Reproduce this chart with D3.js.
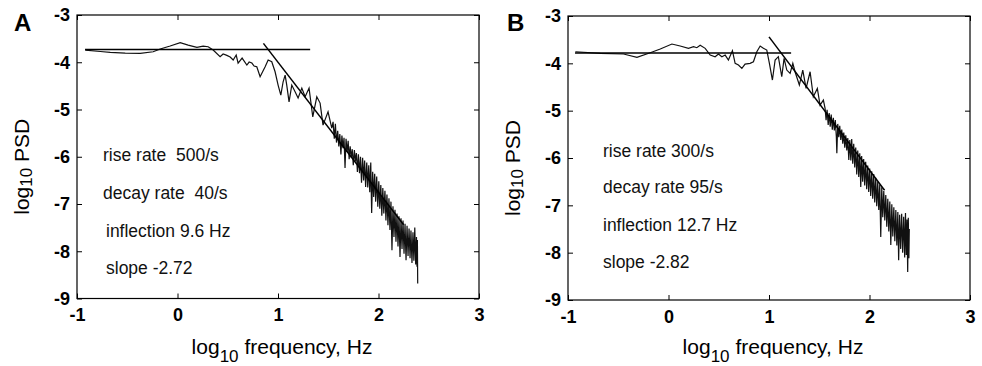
<!DOCTYPE html>
<html>
<head>
<meta charset="utf-8">
<script src="https://cdn.jsdelivr.net/npm/d3@7"></script>
<style>
  body { margin: 0; background: #fff; }
  svg { display: block; }
  .tick text { font-family: "Liberation Sans", Arial, sans-serif; font-size: 18px; font-weight: bold; fill: #000; }
  .note { font-family: "Liberation Sans", Arial, sans-serif; font-size: 17.5px; fill: #111; white-space: pre; }
  .lab { font-family: "Liberation Sans", Arial, sans-serif; font-size: 21px; fill: #000; }
  .panel { font-family: "Liberation Sans", Arial, sans-serif; font-size: 24px; font-weight: bold; fill: #000; }
</style>
</head>
<body>
<svg id="chart" width="982" height="366"></svg>
<script>
// log10 frequency (Hz) / log10 PSD
const freqA = [-0.918,-0.768,-0.669,-0.520,-0.371,-0.242,-0.172,-0.073,0.027,0.106,0.193,0.255,0.305,0.355,0.424,0.454,0.491,0.524,0.554,0.584,0.603,0.643,0.690,0.713,0.740,0.762,0.789,0.822,0.872,0.902,0.938,0.971,1.001,1.028,1.051,1.071,1.087,1.110,1.137,1.170,1.200,1.237,1.270,1.309,1.346,1.386,1.419,1.448,1.498,1.535,
  1.548,1.560,1.571,1.582,1.594,1.605,1.615,1.626,1.636,1.647,1.657,1.667,1.677,1.688,1.698,1.708,1.718,1.729,1.739,1.749,1.760,1.770,1.780,1.790,
  1.800,1.811,1.821,1.831,1.842,1.852,1.862,1.872,1.883,1.893,1.903,1.913,1.923,1.932,1.942,1.952,1.962,1.972,1.982,1.993,2.003,2.013,2.023,2.033,2.043,2.053,2.064,2.074,2.084,2.094,2.104,2.114,2.124,2.134,2.144,2.154,2.164,2.174,2.184,2.194,2.204,2.214,2.224,2.234,2.244,2.254,2.264,2.274,2.284,2.294,2.304,2.314,2.323,2.333,2.343,2.352,2.361,2.370,2.378,2.383,2.387,2.390]
const psdA = [-3.742,-3.773,-3.790,-3.805,-3.811,-3.778,-3.720,-3.657,-3.587,-3.636,-3.684,-3.657,-3.672,-3.742,-3.883,-3.826,-3.854,-3.890,-3.953,-3.847,-4.017,-3.911,-4.059,-3.996,-4.017,-4.081,-4.095,-4.307,-4.095,-3.953,-3.989,-4.201,-4.483,-4.695,-4.413,-4.271,-4.483,-4.837,-4.483,-4.625,-4.758,-4.547,-4.731,-4.547,-5.155,-4.731,-4.864,-5.331,-5.049,-5.394,
  -5.26,-5.62,-5.30,-5.70,-5.45,-5.78,-5.52,-5.95,-5.55,-5.82,-5.60,-6.24,-5.62,-5.90,-5.66,-6.05,-5.78,-6.02,-5.84,-6.18,-5.86,-6.10,-5.92,-6.32,
  -5.95,-6.35,-6.00,-6.55,-6.02,-6.50,-6.08,-6.64,-6.12,-6.65,-6.18,-6.75,-6.12,-7.19,-6.32,-6.85,-6.36,-6.95,-6.42,-7.06,-6.52,-7.10,-6.60,-7.25,-6.66,-7.20,-6.72,-7.35,-6.80,-7.45,-6.88,-7.55,-6.95,-7.98,-7.05,-7.70,-7.12,-7.80,-7.20,-7.90,-7.26,-8.12,-7.30,-7.95,-7.35,-8.05,-7.42,-8.19,-7.46,-8.10,-7.52,-8.15,-7.56,-8.25,-7.60,-8.20,-7.50,-8.28,-7.70,-8.33,-7.76,-8.68]

const freqB = [-0.927,-0.679,-0.447,-0.314,-0.182,-0.082,0.034,0.116,0.199,0.249,0.282,0.315,0.365,0.415,0.464,0.497,0.531,0.564,0.596,0.636,0.663,0.696,0.730,0.762,0.812,0.845,0.879,0.912,0.944,0.978,1.004,1.034,1.061,1.093,1.127,1.150,1.177,1.210,1.237,1.259,1.302,1.336,1.369,1.409,1.441,1.481,1.508,1.541,
  1.558,1.568,1.578,1.589,1.599,1.609,1.619,1.630,1.640,1.650,1.660,1.670,1.675,1.684,1.694,1.704,1.714,1.724,1.734,1.744,1.754,1.764,1.774,1.784,1.794,
  1.804,1.814,1.823,1.833,1.843,1.853,1.863,1.873,1.883,1.893,1.903,1.913,1.922,1.932,1.942,1.952,1.962,1.972,1.982,1.992,2.002,2.012,2.022,2.032,2.042,2.052,2.062,2.072,2.082,2.092,2.102,2.112,2.122,2.132,2.142,2.152,2.162,2.172,2.182,2.192,2.202,2.212,2.222,2.232,2.242,2.252,2.262,2.272,2.282,2.290,2.300,2.310,2.320,2.330,2.340,2.350,2.358,2.366,2.373,2.380,2.386,2.392,2.396]
const psdB = [-3.755,-3.789,-3.803,-3.873,-3.776,-3.698,-3.592,-3.634,-3.683,-3.649,-3.670,-3.619,-3.683,-3.825,-3.860,-3.803,-3.860,-3.825,-3.930,-3.734,-4.000,-4.036,-4.106,-4.015,-4.000,-3.966,-3.755,-3.634,-3.683,-3.719,-4.000,-4.353,-3.930,-3.860,-4.283,-3.894,-4.142,-4.211,-4.000,-4.178,-4.459,-4.142,-4.529,-4.178,-4.706,-4.529,-4.882,-4.776,
  -4.95,-5.20,-4.98,-5.30,-5.05,-5.34,-5.08,-5.40,-5.15,-5.42,-5.20,-5.55,-5.90,-5.28,-5.56,-5.32,-5.62,-5.40,-5.70,-5.46,-5.78,-5.52,-5.84,-5.58,-6.04,
  -5.62,-6.05,-5.60,-6.12,-5.70,-6.20,-5.78,-6.35,-5.84,-6.40,-5.90,-6.61,-5.96,-6.50,-6.02,-6.58,-6.08,-6.66,-6.16,-6.72,-6.22,-6.80,-6.28,-6.86,-6.34,-6.94,-6.42,-7.02,-6.50,-7.10,-6.56,-7.67,-6.62,-7.25,-6.70,-7.32,-6.78,-7.45,-6.86,-7.55,-6.92,-7.84,-6.98,-7.66,-7.04,-7.76,-7.10,-7.85,-7.14,-8.16,-7.20,-7.92,-7.18,-8.00,-7.24,-8.10,-7.16,-8.05,-7.30,-8.41,-7.26,-8.12,-7.50]

// fitted asymptotes: [x0, y0, x1, y1]
const flatA = [-0.92, -3.73, 1.32, -3.73]
const slopeA = [0.855, -3.60, 2.25, -7.44]
const flatB = [-0.93, -3.78, 1.22, -3.78]
const slopeB = [1.00, -3.44, 2.15, -6.68]

const notesA = ["rise rate  500/s", "decay rate  40/s", "inflection 9.6 Hz", "slope -2.72"]
const notesB = ["rise rate 300/s", "decay rate 95/s", "inflection 12.7 Hz", "slope -2.82"]

const xTicks = [-1, 0, 1, 2, 3]
const yTicks = [-3, -4, -5, -6, -7, -8, -9]

const svg = d3.select("#chart")

function drawPanel(p) {
  const x = d3.scaleLinear().domain([-1, 3]).range([p.left, p.right])
  const y = d3.scaleLinear().domain([-9, -3]).range([p.bottom, p.top])
  const g = svg.append("g")

  // inward ticks on all four sides, labels only left/bottom
  g.append("g").attr("transform", `translate(0,${p.bottom})`)
    .call(d3.axisBottom(x).tickValues(xTicks).tickSizeInner(-5).tickSizeOuter(0).tickPadding(10).tickFormat(d3.format("d")))
  g.append("g").attr("transform", `translate(0,${p.top})`)
    .call(d3.axisTop(x).tickValues(xTicks).tickSizeInner(-5).tickSizeOuter(0).tickFormat(""))
  g.append("g").attr("transform", `translate(${p.left},0)`)
    .call(d3.axisLeft(y).tickValues(yTicks).tickSizeInner(-5).tickSizeOuter(0).tickPadding(7).tickFormat(d3.format("d")))
  g.append("g").attr("transform", `translate(${p.right},0)`)
    .call(d3.axisRight(y).tickValues(yTicks).tickSizeInner(-5).tickSizeOuter(0).tickFormat(""))
  g.selectAll(".domain").remove()
  g.selectAll(".tick line").attr("stroke", "#000")
  g.selectAll(".tick text").text(function() { return this.textContent.replace("−", "-") })

  g.append("rect")
    .attr("x", p.left).attr("y", p.top)
    .attr("width", p.right - p.left).attr("height", p.bottom - p.top)
    .attr("fill", "none").attr("stroke", "#000").attr("stroke-width", 1.2)

  const pts = p.freq.map((f, i) => [f, p.psd[i]])
  g.append("path").datum(pts)
    .attr("fill", "none").attr("stroke", "#111").attr("stroke-width", 1.2)
    .attr("d", d3.line().x(d => x(d[0])).y(d => y(d[1])))

  ;[p.flat, p.slope].forEach(s => {
    g.append("line")
      .attr("x1", x(s[0])).attr("y1", y(s[1]))
      .attr("x2", x(s[2])).attr("y2", y(s[3]))
      .attr("stroke", "#000").attr("stroke-width", 1.5)
  })

  p.notes.forEach((t, i) => {
    g.append("text").attr("class", "note")
      .attr("x", p.noteX[i]).attr("y", p.noteY[i])
      .text(t)
  })

  const cx = (p.left + p.right) / 2 + 4
  const xl = g.append("text").attr("class", "lab")
    .attr("x", cx).attr("y", 354).attr("text-anchor", "middle")
  xl.append("tspan").text("log")
  xl.append("tspan").attr("font-size", 17).attr("dy", 8).text("10")
  xl.append("tspan").attr("dy", -8).text(" frequency, Hz")

  const yl = g.append("text").attr("class", "lab")
    .attr("transform", `translate(${p.left - 48},${(p.top + p.bottom) / 2 + 10}) rotate(-90)`)
    .attr("text-anchor", "middle")
  yl.append("tspan").text("log")
  yl.append("tspan").attr("font-size", 17).attr("dy", 3).text("10")
  yl.append("tspan").attr("dy", -3).text(" PSD")

  g.append("text").attr("class", "panel")
    .attr("x", p.labelX).attr("y", 31).text(p.label)
}

drawPanel({
  left: 77, right: 479, top: 15, bottom: 298.5,
  freq: freqA, psd: psdA, flat: flatA, slope: slopeA,
  notes: notesA, noteX: [103, 103, 106, 106], noteY: [161, 199, 237, 274],
  label: "A", labelX: 14
})
drawPanel({
  left: 568, right: 970, top: 16, bottom: 300,
  freq: freqB, psd: psdB, flat: flatB, slope: slopeB,
  notes: notesB, noteX: [603, 603, 603, 603], noteY: [157, 193, 231, 268],
  label: "B", labelX: 507
})
</script>
</body>
</html>
